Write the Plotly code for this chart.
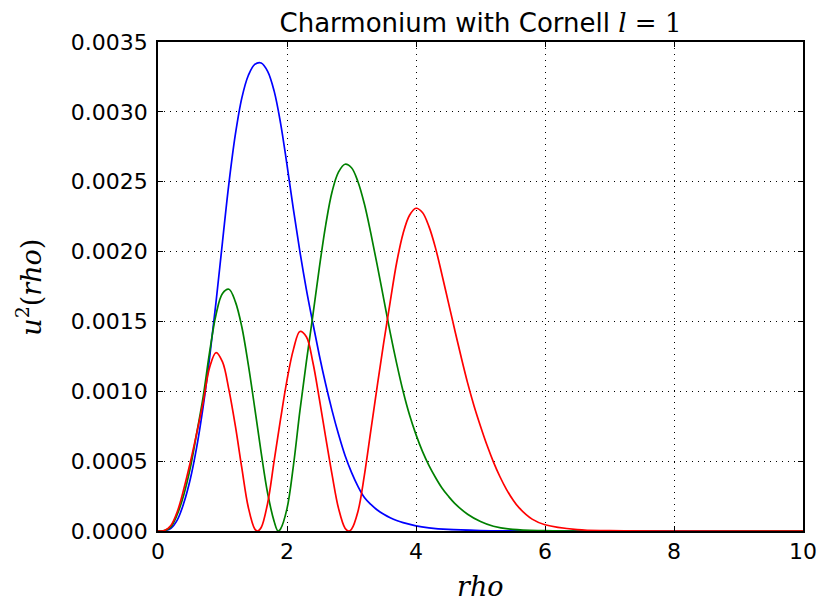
import plotly.graph_objects as go

S = 1e-5  # values below are read in units of 1e-5

blue_x = [0, 0.1, 0.2, 0.3, 0.4, 0.5, 0.6, 0.7, 0.8, 0.9, 1.0, 1.1, 1.2, 1.3, 1.4, 1.5, 1.6, 1.7, 1.8, 1.9, 2.0, 2.1, 2.2, 2.3, 2.4, 2.5, 2.6, 2.7, 2.8, 2.9, 3.0, 3.1, 3.2, 3.3, 3.4, 3.5, 3.6, 3.7, 3.8, 4.0, 4.2, 4.5, 5.0, 5.5, 6.0, 10]
blue_y = [0, 0.2, 2, 8, 20, 37, 60, 89, 124, 164, 207, 249, 284, 310, 326, 334, 335, 329, 315, 292, 262, 230, 200, 173, 149, 126, 105, 86, 69, 54, 42, 32, 24, 19, 15, 12, 9.5, 7.5, 6, 3.7, 2.3, 1.1, 0.35, 0.1, 0.02, 0]

green_x = [0, 0.1, 0.2, 0.3, 0.4, 0.5, 0.6, 0.7, 0.8, 0.9, 1.0, 1.1, 1.2, 1.3, 1.4, 1.5, 1.6, 1.7, 1.8, 1.86, 1.9, 2.0, 2.1, 2.2, 2.3, 2.4, 2.5, 2.6, 2.7, 2.8, 2.9, 3.0, 3.1, 3.2, 3.3, 3.4, 3.5, 3.6, 3.7, 3.8, 3.9, 4.0, 4.1, 4.2, 4.3, 4.4, 4.5, 4.6, 4.8, 5.0, 5.2, 5.5, 6.0, 10]
green_y = [0, 0.3, 3, 12, 26, 45, 70, 96, 128, 155, 170, 173, 164, 146, 119, 88, 56, 27, 7, 0, 1.5, 16, 47, 86, 121, 154, 188, 219, 243, 257, 262.5, 260, 250, 234, 213, 190, 166, 142, 120, 100, 83, 69, 57, 47, 38.5, 31, 25, 19.8, 12, 6.8, 3.4, 1.1, 0.2, 0]

red_x = [0, 0.1, 0.2, 0.3, 0.4, 0.5, 0.6, 0.7, 0.8, 0.9, 1.0, 1.1, 1.2, 1.3, 1.4, 1.5, 1.545, 1.6, 1.7, 1.8, 1.9, 2.0, 2.1, 2.2, 2.3, 2.4, 2.5, 2.6, 2.7, 2.8, 2.9, 2.955, 3.0, 3.1, 3.2, 3.3, 3.4, 3.5, 3.6, 3.7, 3.8, 3.9, 4.0, 4.1, 4.2, 4.3, 4.4, 4.5, 4.6, 4.7, 4.8, 4.9, 5.0, 5.1, 5.2, 5.3, 5.4, 5.5, 5.6, 5.8, 6.0, 6.5, 7.0, 10]
red_y = [0, 0.4, 4, 14, 30, 49, 70, 92, 117, 127.7, 121, 101, 75, 45, 17, 1.5, 0, 2.5, 20, 50, 80, 108, 130, 142.8, 139, 121, 95, 67, 40, 16, 2, 0, 1.3, 14, 40, 72, 104, 135, 164, 192, 213, 226, 231, 228, 218, 203, 184, 164, 144, 124.5, 106, 89.5, 75, 61.5, 49.5, 39, 30, 22.5, 16.5, 8.5, 4.5, 1, 0.2, 0]

x_ticks = [0, 2, 4, 6, 8, 10]
y_ticks = [0.0, 0.0005, 0.0010, 0.0015, 0.0020, 0.0025, 0.0030, 0.0035]
y_tick_labels = ["0.0000", "0.0005", "0.0010", "0.0015", "0.0020", "0.0025", "0.0030", "0.0035"]

# plot area in page pixels (body margin removed below)
W, H = 821, 603
L, R, T, B = 158, 803, 42, 531.5

fig = go.Figure()
for xs, ys, col in [(blue_x, blue_y, "#0000ff"), (green_x, green_y, "#008000"), (red_x, red_y, "#ff0000")]:
    fig.add_trace(go.Scatter(x=xs, y=[v * S for v in ys], mode="lines",
                             line=dict(color=col, width=1.7, shape="spline", smoothing=1.0),
                             showlegend=False, hoverinfo="skip"))

axis_common = dict(showline=True, linecolor="black", linewidth=1.5, mirror="allticks",
                   ticks="inside", ticklen=5, tickwidth=1, tickcolor="black",
                   showgrid=True, gridcolor="black", griddash="1px,5px", gridwidth=1,
                   zeroline=False, automargin=False,
                   tickfont=dict(family="DejaVu Sans", size=22, color="black"))

fig.update_xaxes(range=[0, 10], tickvals=x_ticks, ticktext=[str(v) for v in x_ticks],
                 ticklabelstandoff=0, **axis_common)
fig.update_yaxes(range=[0, 0.0035], tickvals=y_ticks, ticktext=y_tick_labels,
                 ticklabelstandoff=4, **axis_common)

pw, ph = R - L, B - T
fig.add_annotation(text="<i>rho</i>", xref="paper", yref="paper",
                   x=(480 - L) / pw, y=(B - 587) / ph, xanchor="center", yanchor="middle",
                   showarrow=False, font=dict(family="DejaVu Serif", size=27, color="black"))
fig.add_annotation(text="<i>u</i><sup>2</sup>(<i>rho</i>)", xref="paper", yref="paper",
                   x=(29 - L) / pw, y=(B - 288) / ph, xanchor="center", yanchor="middle", textangle=-90,
                   showarrow=False, font=dict(family="DejaVu Serif", size=27, color="black"))

fig.update_layout(
    width=W, height=H,
    margin=dict(l=L, r=W - R, t=T, b=H - B),
    paper_bgcolor="white", plot_bgcolor="white",
    title=dict(text='Charmonium with Cornell <span style="font-family:DejaVu Serif"><i>l</i> = 1</span>',
               x=(L + R) / 2 / W, xanchor="center", y=1 - 23 / H, yanchor="middle",
               font=dict(family="DejaVu Sans", size=26, color="black")),
)

fig.write_html("out.html", config={"displayModeBar": False},
               post_script="document.body.style.margin='0';document.body.style.overflow='hidden';")
